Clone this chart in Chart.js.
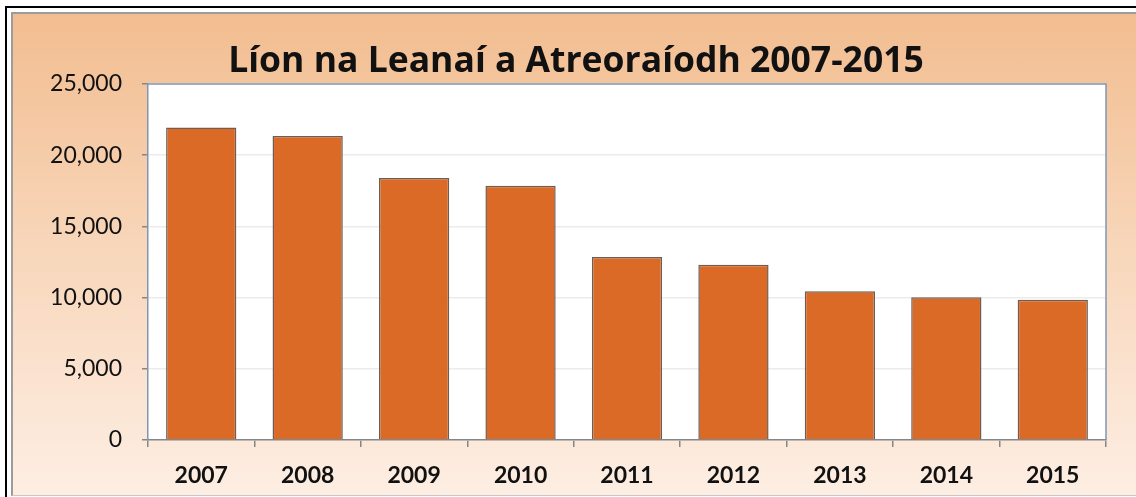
<!DOCTYPE html>
<html>
<head>
<meta charset="utf-8">
<script src="https://cdn.jsdelivr.net/npm/chart.js@4.4.0/dist/chart.umd.min.js"></script>
<style>
    body { margin: 0; background: #fff; width: 1136px; height: 497px; overflow: hidden; position: relative; }
    #outer { position: absolute; left: 5px; top: 6px; right: 0; bottom: 0; border-top: 2px solid #000; border-left: 2px solid #000; }
    #frame { position: absolute; left: 11px; top: 12px; right: 0; bottom: 1px;
             border-top: 2px solid #9c9c9c; border-left: 2px solid #9c9c9c; border-bottom: 1px solid #c8c8c8;
             background: linear-gradient(#f2bd90, #f8d7bb 50%, #fdeee3); }
    #wrap { position: absolute; left: 12px; top: 12px; width: 1128px; height: 483px; }
</style>
</head>
<body>
<div id="outer"></div>
<div id="frame"></div>
<div id="wrap"><canvas id="chart"></canvas></div>
<script>
    // --- Data ---
    const years = ['2007', '2008', '2009', '2010', '2011', '2012', '2013', '2014', '2015'];
    const referrals = [21950, 21350, 18400, 17850, 12850, 12300, 10450, 10030, 9850];
    const yTicks = [0, 5000, 10000, 15000, 20000, 25000];
    const chartTitle = 'Líon na Leanaí a Atreoraíodh 2007-2015';

    // white plot area with a blue-grey frame
    const plotFrame = {
        id: 'plotFrame',
        beforeDraw(chart) {
            const a = chart.chartArea;
            const ctx = chart.ctx;
            ctx.save();
            ctx.fillStyle = '#ffffff';
            ctx.fillRect(a.left, a.top, a.right - a.left, a.bottom - a.top);
            ctx.restore();
        },
        afterDraw(chart) {
            const a = chart.chartArea;
            const ctx = chart.ctx;
            ctx.save();
            ctx.strokeStyle = '#8096b4';
            ctx.lineWidth = 1.5;
            ctx.beginPath();
            ctx.moveTo(a.left, a.top);
            ctx.lineTo(a.right, a.top);
            ctx.lineTo(a.right, a.bottom);
            ctx.stroke();
            ctx.restore();
        }
    };

    const ctx = document.getElementById('chart').getContext('2d');
    new Chart(ctx, {
        type: 'bar',
        data: {
            labels: years,
            datasets: [{
                data: referrals,
                backgroundColor: '#db6a27',
                borderColor: '#6e5d52',
                borderWidth: 1.5,
                barPercentage: 0.66,
                categoryPercentage: 1.0
            }]
        },
        options: {
            responsive: true,
            maintainAspectRatio: false,
            animation: false,
            layout: { padding: 0 },
            plugins: {
                legend: { display: false },
                tooltip: { enabled: false },
                title: {
                    display: true,
                    text: chartTitle,
                    color: '#111',
                    font: { family: 'Open Sans', size: 35.5, weight: 'bold' },
                    padding: { top: 29, bottom: 0.4 }
                }
            },
            scales: {
                x: {
                    afterFit: (scale) => { scale.height = 55; },
                    grid: { display: true, drawOnChartArea: false, drawTicks: true, offset: true,
                            tickLength: 7, color: '#868686', lineWidth: 1.5 },
                    border: { color: '#868686', width: 1.5 },
                    ticks: { color: '#111', padding: 15, font: { family: 'Lato', size: 23, weight: 'bold' } }
                },
                y: {
                    min: 0,
                    max: 25000,
                    afterFit: (scale) => { scale.width = 136; },
                    afterBuildTicks: (scale) => { scale.ticks = yTicks.map(v => ({ value: v })); },
                    grid: { color: '#ececec', lineWidth: 1.5, tickColor: '#868686', tickLength: 6 },
                    border: { color: '#8096b4', width: 1.5 },
                    ticks: {
                        color: '#111',
                        padding: 20,
                        font: { family: 'Lato', size: 23 },
                        callback: (v) => v.toLocaleString('en-US')
                    }
                },
                // empty right-hand margin, keeps the title centred like the original
                yRight: {
                    type: 'linear',
                    position: 'right',
                    afterFit: (scale) => { scale.width = 34; },
                    grid: { display: false },
                    border: { display: false },
                    ticks: { display: false }
                }
            }
        },
        plugins: [plotFrame]
    });
</script>
</body>
</html>
